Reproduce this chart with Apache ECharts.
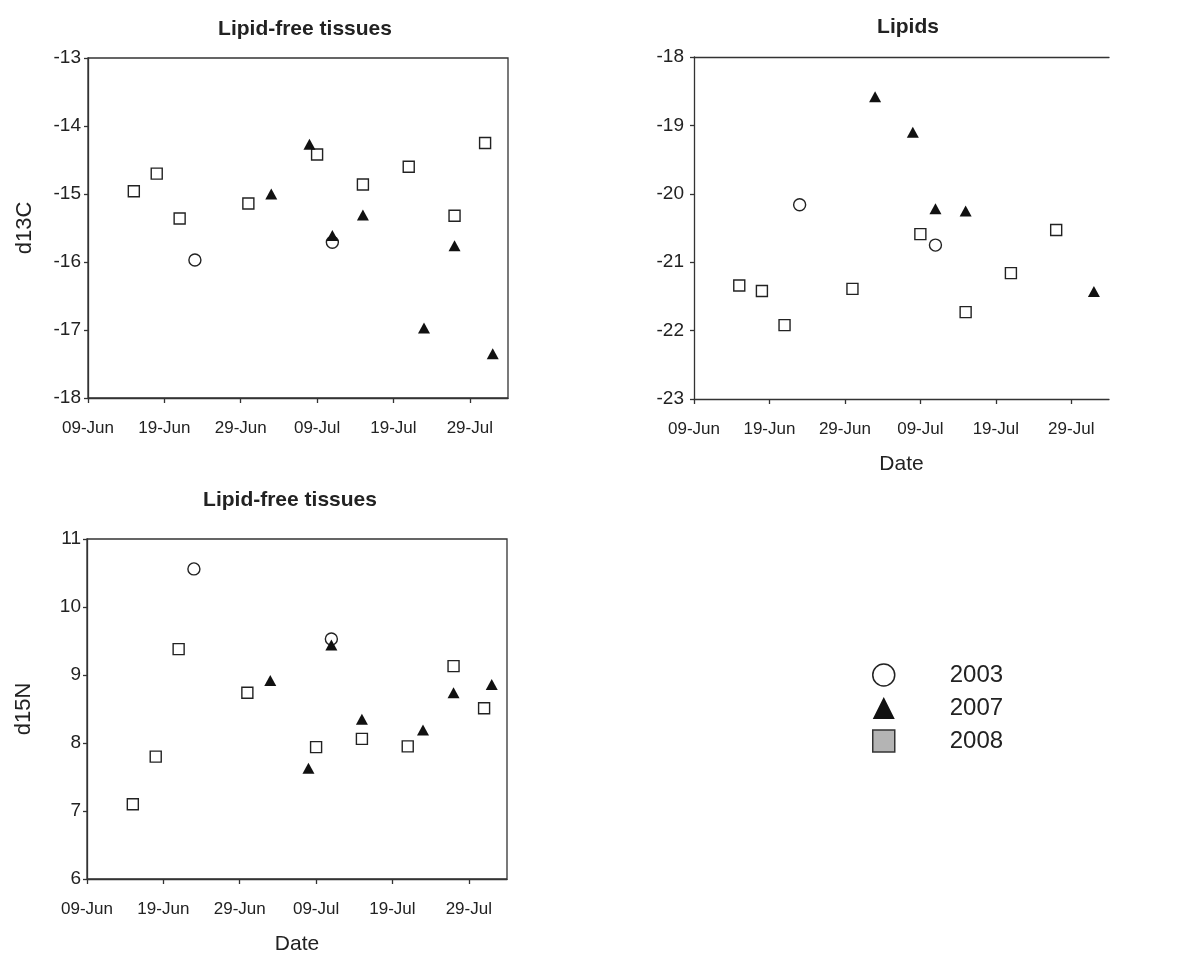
<!DOCTYPE html>
<html>
<head>
<meta charset="utf-8">
<script src="https://cdn.jsdelivr.net/npm/echarts@6/dist/echarts.min.js"></script>
<style>
html,body{margin:0;padding:0;background:#fff;}
#chart{width:1181px;height:957px;}
</style>
</head>
<body>
<div id="chart"></div>
<script>
// ---- Tick labels (x axis: days counted from 09-Jun, every 10 days) ----
const xTickLabels = ['09-Jun', '19-Jun', '29-Jun', '09-Jul', '19-Jul', '29-Jul'];

// ---- Panel 1: Lipid-free tissues, d13C ----
const c13_2003_dates = ['23-Jun', '11-Jul'];
const c13_2003 = [-15.97, -15.71];
const c13_2007_dates = ['03-Jul', '08-Jul', '11-Jul', '15-Jul', '23-Jul', '27-Jul', '01-Aug'];
const c13_2007 = [-15.0, -14.27, -15.61, -15.31, -16.97, -15.76, -17.35];
const c13_2008_dates = ['15-Jun', '18-Jun', '21-Jun', '30-Jun', '09-Jul', '15-Jul', '21-Jul', '27-Jul', '31-Jul'];
const c13_2008 = [-14.96, -14.70, -15.36, -15.14, -14.42, -14.86, -14.60, -15.32, -14.25];

// ---- Panel 2: Lipids, d13C ----
const lip_2003_dates = ['23-Jun', '11-Jul'];
const lip_2003 = [-20.16, -20.75];
const lip_2007_dates = ['03-Jul', '08-Jul', '11-Jul', '15-Jul', '01-Aug'];
const lip_2007 = [-18.58, -19.10, -20.22, -20.25, -21.43];
const lip_2008_dates = ['15-Jun', '18-Jun', '21-Jun', '30-Jun', '09-Jul', '15-Jul', '21-Jul', '27-Jul'];
const lip_2008 = [-21.34, -21.42, -21.92, -21.39, -20.59, -21.73, -21.16, -20.53];

// ---- Panel 3: Lipid-free tissues, d15N ----
const n15_2003_dates = ['23-Jun', '11-Jul'];
const n15_2003 = [10.56, 9.53];
const n15_2007_dates = ['03-Jul', '08-Jul', '11-Jul', '15-Jul', '23-Jul', '27-Jul', '01-Aug'];
const n15_2007 = [8.92, 7.63, 9.44, 8.35, 8.19, 8.74, 8.86];
const n15_2008_dates = ['15-Jun', '18-Jun', '21-Jun', '30-Jun', '09-Jul', '15-Jul', '21-Jul', '27-Jul', '31-Jul'];
const n15_2008 = [7.10, 7.80, 9.38, 8.74, 7.94, 8.06, 7.95, 9.13, 8.51];

// day offset from 09-Jun
const monthStart = { Jun: -9, Jul: 21, Aug: 52 };
function dayOf(s) {
  const [d, m] = s.split('-');
  return monthStart[m] + parseInt(d, 10);
}
function pts(dates, vals) {
  return dates.map((d, i) => [dayOf(d), vals[i]]);
}
const xTickValues = xTickLabels.map(dayOf);

const TXT = '#222';
const AX = '#333';
const FONT = 'Liberation Sans, Arial, sans-serif';

function xAxisCfg(gridIndex, name) {
  return {
    type: 'value', gridIndex: gridIndex, min: 0, max: 55, interval: 10,
    axisLine: { show: true, onZero: false, lineStyle: { color: AX, width: 1.3 } },
    axisTick: { show: true, length: 5, customValues: xTickValues, lineStyle: { color: AX, width: 1.3 } },
    axisLabel: {
      color: TXT, fontSize: 17, fontFamily: FONT, margin: 22,
      customValues: xTickValues,
      formatter: v => { const i = xTickValues.indexOf(v); return i >= 0 ? xTickLabels[i] : ''; }
    },
    splitLine: { show: false },
    name: name || '', nameLocation: 'middle', nameGap: 55,
    nameTextStyle: { color: TXT, fontSize: 21, fontFamily: FONT }
  };
}
function yAxisCfg(gridIndex, min, max, name, margin) {
  return {
    type: 'value', gridIndex: gridIndex, min: min, max: max, interval: 1,
    axisLine: { show: true, onZero: false, lineStyle: { color: AX, width: 1.3 } },
    axisTick: { show: true, length: 4, lineStyle: { color: AX, width: 1.3 } },
    axisLabel: { color: TXT, fontSize: 19, fontFamily: FONT, margin: margin },
    splitLine: { show: false },
    name: name || '', nameLocation: 'middle', nameGap: 52, nameRotate: 90,
    nameTextStyle: { color: TXT, fontSize: 22, fontFamily: FONT }
  };
}

const sCircle = { symbol: 'circle', symbolSize: 12, itemStyle: { color: '#fff', borderColor: '#222', borderWidth: 1.4, opacity: 1 } };
const sSquare = { symbol: 'rect', symbolSize: 11, itemStyle: { color: '#fff', borderColor: '#222', borderWidth: 1.4, opacity: 1 } };
const sTri = { symbol: 'triangle', symbolSize: [12, 11], itemStyle: { color: '#111', borderWidth: 0, opacity: 1 } };

function seriesFor(idx, d03, v03, d07, v07, d08, v08) {
  return [
    Object.assign({ type: 'scatter', name: '2003', xAxisIndex: idx, yAxisIndex: idx, data: pts(d03, v03) }, JSON.parse(JSON.stringify(sCircle))),
    Object.assign({ type: 'scatter', name: '2008', xAxisIndex: idx, yAxisIndex: idx, data: pts(d08, v08) }, JSON.parse(JSON.stringify(sSquare))),
    Object.assign({ type: 'scatter', name: '2007', xAxisIndex: idx, yAxisIndex: idx, data: pts(d07, v07) }, JSON.parse(JSON.stringify(sTri)))
  ];
}

const chart = echarts.init(document.getElementById('chart'), null, { renderer: 'canvas' });
const option = {
  animation: false,
  backgroundColor: '#fff',
  textStyle: { fontFamily: FONT },
  title: [
    { text: 'Lipid-free tissues', left: 300, top: 14, textAlign: 'center', textStyle: { fontSize: 21, fontWeight: 'bold', color: TXT, fontFamily: FONT } },
    { text: 'Lipids', left: 903, top: 12, textAlign: 'center', textStyle: { fontSize: 21, fontWeight: 'bold', color: TXT, fontFamily: FONT } },
    { text: 'Lipid-free tissues', left: 285, top: 485, textAlign: 'center', textStyle: { fontSize: 21, fontWeight: 'bold', color: TXT, fontFamily: FONT } }
  ],
  grid: [
    { left: 88, top: 58, width: 420, height: 340, show: true, borderColor: AX, borderWidth: 1.3, backgroundColor: 'transparent' },
    { left: 694, top: 57, width: 415, height: 342, show: false },
    { left: 87, top: 539, width: 420, height: 340, show: true, borderColor: AX, borderWidth: 1.3, backgroundColor: 'transparent' }
  ],
  xAxis: [
    xAxisCfg(0, ''),
    xAxisCfg(1, 'Date'),
    xAxisCfg(2, 'Date'),
    { type: 'value', gridIndex: 1, position: 'top', min: 0, max: 55, axisLine: { show: true, lineStyle: { color: AX, width: 1.3 } }, axisTick: { show: false }, axisLabel: { show: false }, splitLine: { show: false } }
  ],
  yAxis: [
    yAxisCfg(0, -18, -13, 'd13C', 7),
    yAxisCfg(1, -23, -18, '', 10),
    yAxisCfg(2, 6, 11, 'd15N', 6)
  ],
  legend: {
    show: true, orient: 'vertical', left: 867, top: 658, selectedMode: false,
    itemWidth: 22, itemHeight: 22, itemGap: 9,
    textStyle: { fontSize: 24, color: TXT, fontFamily: FONT, padding: [0, 0, 0, 50] },
    data: [
      { name: '2003', icon: 'circle', itemStyle: { color: '#fff', borderColor: '#222', borderWidth: 1.5 } },
      { name: '2007', icon: 'triangle', itemStyle: { color: '#111', borderWidth: 0 } },
      { name: '2008', icon: 'rect', itemStyle: { color: '#b4b4b4', borderColor: '#333', borderWidth: 1.5 } }
    ]
  },
  series: [].concat(
    seriesFor(0, c13_2003_dates, c13_2003, c13_2007_dates, c13_2007, c13_2008_dates, c13_2008),
    seriesFor(1, lip_2003_dates, lip_2003, lip_2007_dates, lip_2007, lip_2008_dates, lip_2008),
    seriesFor(2, n15_2003_dates, n15_2003, n15_2007_dates, n15_2007, n15_2008_dates, n15_2008)
  )
};
chart.setOption(option);
</script>
</body>
</html>
